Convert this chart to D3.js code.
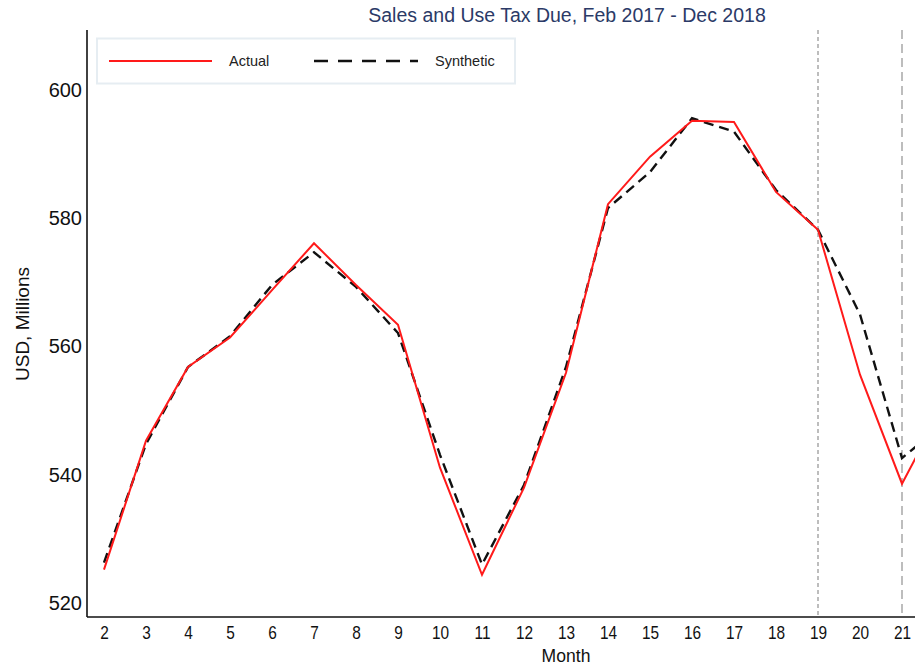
<!DOCTYPE html>
<html>
<head>
<meta charset="utf-8">
<script src="https://cdn.jsdelivr.net/npm/d3@7"></script>
<style>
  body { margin: 0; background: #fff; }
  svg { display: block; }
  text { font-family: "Liberation Sans", Arial, sans-serif; }
</style>
</head>
<body>
<svg id="chart" width="915" height="667"></svg>
<script>
const months = [2, 3, 4, 5, 6, 7, 8, 9, 10, 11, 12, 13, 14, 15, 16, 17, 18, 19, 20, 21, 22];
const actual = [525.2, 545.3, 556.8, 561.4, 568.8, 576.1, 569.6, 563.4, 541.1, 524.4, 538.0, 555.9, 582.2, 589.6, 595.2, 595.0, 584.1, 578.2, 555.6, 538.6, 551.0];
const synthetic = [526.3, 544.8, 556.8, 561.6, 569.6, 574.7, 569.3, 562.1, 543.1, 526.0, 538.4, 556.8, 581.6, 587.2, 595.6, 593.5, 584.4, 578.2, 565.0, 542.6, 548.0];
const xTicks = [2, 3, 4, 5, 6, 7, 8, 9, 10, 11, 12, 13, 14, 15, 16, 17, 18, 19, 20, 21];
const yTicks = [520, 540, 560, 580, 600];
const markers = [19, 21];
const title = "Sales and Use Tax Due, Feb 2017 - Dec 2018";
const seriesNames = ["Actual", "Synthetic"];

const svg = d3.select("#chart");
const x = d3.scaleLinear().domain([2, 21]).range([104, 902]);
const y = d3.scaleLinear().domain([520, 600]).range([603, 90]);
const axisX = 87, axisTop = 30, axisBottom = 617;

// title
svg.append("text").attr("x", 567).attr("y", 22).attr("text-anchor", "middle")
  .attr("font-size", 19.5).attr("fill", "#2b3a67").text(title);

// marker lines
svg.append("line").attr("x1", x(markers[0])).attr("x2", x(markers[0]))
  .attr("y1", axisTop).attr("y2", axisBottom)
  .attr("stroke", "#bdbdbd").attr("stroke-width", 2).attr("stroke-dasharray", "4,3");
svg.append("line").attr("x1", x(markers[1])).attr("x2", x(markers[1]))
  .attr("y1", axisTop).attr("y2", axisBottom)
  .attr("stroke", "#bdbdbd").attr("stroke-width", 2).attr("stroke-dasharray", "9,5");

// axes
const yAxis = d3.axisLeft(y).tickValues(yTicks).tickSize(0).tickPadding(5);
const gy = svg.append("g").attr("transform", `translate(${axisX},0)`).call(yAxis);
gy.select(".domain").remove();
gy.selectAll("text").attr("font-size", 20).attr("fill", "#111")
  .attr("font-family", "'Liberation Sans', Arial, sans-serif");

const xAxis = d3.axisBottom(x).tickValues(xTicks).tickSize(0).tickPadding(10).tickFormat(d3.format("d"));
const gx = svg.append("g").attr("transform", `translate(0,${axisBottom})`).call(xAxis);
gx.select(".domain").remove();
gx.selectAll("text").attr("font-size", 17.5).attr("fill", "#111")
  .attr("font-family", "'Liberation Sans', Arial, sans-serif")
  .attr("transform", "scale(0.88,1)");

svg.append("line").attr("x1", axisX).attr("x2", 915).attr("y1", axisBottom).attr("y2", axisBottom)
  .attr("stroke", "#111").attr("stroke-width", 1.6);
svg.append("line").attr("x1", axisX).attr("x2", axisX).attr("y1", axisTop).attr("y2", axisBottom)
  .attr("stroke", "#111").attr("stroke-width", 1.6);

// axis titles
svg.append("text").attr("transform", "translate(29,324) rotate(-90)").attr("text-anchor", "middle")
  .attr("font-size", 19).attr("fill", "#111").text("USD, Millions");
svg.append("text").attr("x", 566).attr("y", 662).attr("text-anchor", "middle")
  .attr("font-size", 18.5).attr("fill", "#111")
  .attr("transform", "translate(566,0) scale(0.95,1) translate(-566,0)")
  .text("Month");

// lines
const line = d3.line().x((d, i) => x(months[i])).y(d => y(d));
svg.append("path").datum(synthetic).attr("d", line).attr("fill", "none")
  .attr("stroke", "#111").attr("stroke-width", 2.4).attr("stroke-dasharray", "10,6");
svg.append("path").datum(actual).attr("d", line).attr("fill", "none")
  .attr("stroke", "#ff1a1a").attr("stroke-width", 2);

// legend
const lg = svg.append("g");
lg.append("rect").attr("x", 97).attr("y", 38.5).attr("width", 418).attr("height", 45)
  .attr("fill", "#fff").attr("stroke", "#e6edf2").attr("stroke-width", 2);
lg.append("line").attr("x1", 109).attr("x2", 212).attr("y1", 61).attr("y2", 61)
  .attr("stroke", "#ff1a1a").attr("stroke-width", 2);
lg.append("text").attr("x", 229).attr("y", 66).attr("font-size", 14.5).attr("fill", "#222").text(seriesNames[0]);
lg.append("line").attr("x1", 314).attr("x2", 418).attr("y1", 61).attr("y2", 61)
  .attr("stroke", "#111").attr("stroke-width", 2.4).attr("stroke-dasharray", "14,10");
lg.append("text").attr("x", 435).attr("y", 66).attr("font-size", 14.5).attr("fill", "#222").text(seriesNames[1]);
</script>
</body>
</html>
